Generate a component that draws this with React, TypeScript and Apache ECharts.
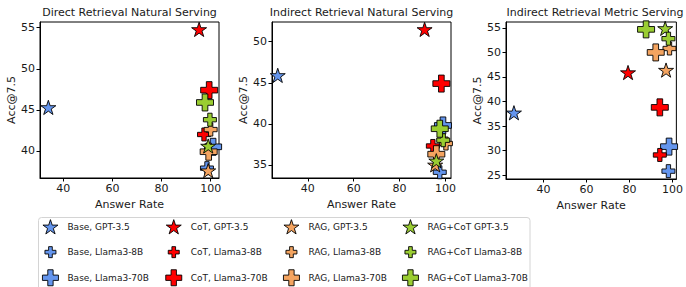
import React, { useEffect, useRef } from "react";
import * as echarts from "echarts";

// ---- data ----
const panelTitles = [
  "Direct Retrieval Natural Serving",
  "Indirect Retrieval Natural Serving",
  "Indirect Retrieval Metric Serving",
];
const xTicks = [40, 60, 80, 100];
const yTicksA = [40, 45, 50, 55];
const yTicksB = [35, 40, 45, 50];
const yTicksC = [25, 30, 35, 40, 45, 50, 55];
const xRanges = [
  [30.5, 103.4],
  [24.4, 102.4],
  [22.5, 101.8],
];
const yRanges = [
  [36.7, 55.7],
  [33.4, 52.4],
  [24.2, 56.2],
];

// [answerRate, acc] per panel
const baseGPT35 = [[33.9, 45.3], [26.9, 45.9], [26.2, 37.7]];
const baseLlama8B = [[98.5, 37.9], [97.5, 34.1], [98.1, 25.8]];
const baseLlama70B = [[101.0, 40.5], [98.9, 39.8], [98.4, 30.8]];
const cotGPT35 = [[95.3, 54.8], [90.9, 51.5], [79.3, 45.9]];
const cotLlama8B = [[97.3, 42.0], [94.5, 37.3], [94.1, 29.1]];
const cotLlama70B = [[99.4, 47.4], [98.2, 44.9], [94.1, 38.8]];
const ragGPT35 = [[99.0, 37.6], [95.5, 35.0], [97.0, 46.4]];
const ragLlama8B = [[100.0, 42.6], [100.2, 37.6], [98.6, 50.8]];
const ragLlama70B = [[99.2, 39.9], [96.0, 36.3], [92.2, 50.0]];
const ragcotGPT35 = [[99.0, 40.6], [96.0, 35.5], [96.6, 54.9]];
const ragcotLlama8B = [[99.7, 43.8], [99.0, 38.0], [98.1, 52.8]];
const ragcotLlama70B = [[97.7, 45.9], [97.5, 39.4], [87.7, 54.7]];

// ---- shapes ----
const starPts: string[] = [];
for (let i = 0; i < 10; i++) {
  const r = i % 2 ? 0.381966 : 1;
  const a = -Math.PI / 2 + (i * Math.PI) / 5;
  starPts.push(`${(r * Math.cos(a)).toFixed(4)},${(r * Math.sin(a)).toFixed(4)}`);
}
const STAR = "path://M" + starPts.join("L") + "Z";
const PLUS = "path://M1,0H2V1H3V2H2V3H1V2H0V1H1Z";

const BLUE = "#6495ED";
const RED = "#FF0000";
const ORANGE = "#F4A460";
const GREEN = "#9ACD32";

type Entry = { name: string; data: number[][]; color: string; kind: "star" | "small" | "big" };
const entries: Entry[] = [
  { name: "Base, GPT-3.5", data: baseGPT35, color: BLUE, kind: "star" },
  { name: "Base, Llama3-8B", data: baseLlama8B, color: BLUE, kind: "small" },
  { name: "Base, Llama3-70B", data: baseLlama70B, color: BLUE, kind: "big" },
  { name: "CoT, GPT-3.5", data: cotGPT35, color: RED, kind: "star" },
  { name: "CoT, Llama3-8B", data: cotLlama8B, color: RED, kind: "small" },
  { name: "CoT, Llama3-70B", data: cotLlama70B, color: RED, kind: "big" },
  { name: "RAG, GPT-3.5", data: ragGPT35, color: ORANGE, kind: "star" },
  { name: "RAG, Llama3-8B", data: ragLlama8B, color: ORANGE, kind: "small" },
  { name: "RAG, Llama3-70B", data: ragLlama70B, color: ORANGE, kind: "big" },
  { name: "RAG+CoT GPT-3.5", data: ragcotGPT35, color: GREEN, kind: "star" },
  { name: "RAG+CoT Llama3-8B", data: ragcotLlama8B, color: GREEN, kind: "small" },
  { name: "RAG+CoT Llama3-70B", data: ragcotLlama70B, color: GREEN, kind: "big" },
];

const FONT = "DejaVu Sans";
const TXT = "#1a1a1a";

export default function App() {
  const ref = useRef<HTMLDivElement>(null);
  useEffect(() => {
    document.body.style.margin = "0";
    if (!ref.current) return;
    const chart = echarts.init(ref.current, null, { renderer: "svg" });

    const grids = [
      { left: 40, top: 22, width: 179, height: 156 },
      { left: 272, top: 22, width: 179, height: 156 },
      { left: 506, top: 22, width: 178, height: 157 },
    ];
    const yTickSets = [yTicksA, yTicksB, yTicksC];
    const yNameGaps = [23, 22, 23];

    const symbolFor = (k: string) => (k === "star" ? STAR : PLUS);
    const plotSize = (k: string) => (k === "star" ? 15 : k === "small" ? 13 : 17);
    const legendSize = (k: string) => (k === "star" ? 15 : k === "small" ? 11 : 16);

    const series: any[] = [];
    entries.forEach((e) => {
      for (let p = 0; p < 3; p++) {
        series.push({
          type: "scatter",
          name: e.name,
          xAxisIndex: p,
          yAxisIndex: p,
          data: [e.data[p]],
          symbol: symbolFor(e.kind),
          symbolSize: plotSize(e.kind),
          symbolKeepAspect: true,
          clip: false,
          itemStyle: { color: e.color, borderColor: "#000", borderWidth: 0.9, opacity: 1 },
          emphasis: { disabled: true },
        });
      }
    });

    const colX = [50, 173.3, 291, 410];
    const rowY = [226.7, 251.7, 277.3];
    const legends = entries.map((e, i) => {
      const col = Math.floor(i / 3);
      const row = i % 3;
      const h = legendSize(e.kind);
      return {
        left: colX[col] - h / 2,
        top: rowY[row] - h / 2,
        orient: "horizontal",
        padding: 0,
        itemWidth: h,
        itemHeight: h,
        symbolKeepAspect: true,
        z: 10,
        itemStyle: { color: e.color, borderColor: "#000", borderWidth: 0.9 },
        textStyle: {
          fontFamily: FONT,
          fontSize: 9,
          color: TXT,
          padding: [0, 0, 0, 17 - h / 2 - 5],
        },
        data: [{ name: e.name, icon: symbolFor(e.kind) }],
      };
    });

    chart.setOption({
      animation: false,
      title: panelTitles.map((t, i) => ({
        text: t,
        left: grids[i].left + grids[i].width / 2,
        top: 7,
        textAlign: "center",
        padding: 0,
        textStyle: { fontFamily: FONT, fontSize: 11, fontWeight: "normal", color: TXT },
      })),
      grid: grids.map((g) => ({ ...g, show: true, borderColor: "#000", borderWidth: 1, backgroundColor: "transparent" })),
      xAxis: grids.map((_, i) => ({
        type: "value",
        gridIndex: i,
        min: xRanges[i][0],
        max: xRanges[i][1],
        name: "Answer Rate",
        nameLocation: "middle",
        nameGap: 18,
        nameTextStyle: { fontFamily: FONT, fontSize: 11, color: TXT },
        axisLine: { show: true, lineStyle: { color: "#000", width: 1 } },
        axisTick: { show: true, length: 3.5, lineStyle: { color: "#000" }, customValues: xTicks },
        axisLabel: { fontFamily: FONT, fontSize: 11, color: TXT, margin: 5, customValues: xTicks },
        splitLine: { show: false },
      })),
      yAxis: grids.map((_, i) => ({
        type: "value",
        gridIndex: i,
        min: yRanges[i][0],
        max: yRanges[i][1],
        name: "Acc@7.5",
        nameLocation: "middle",
        nameGap: yNameGaps[i],
        nameTextStyle: { fontFamily: FONT, fontSize: 11, color: TXT },
        axisLine: { show: true, lineStyle: { color: "#000", width: 1 } },
        axisTick: { show: true, length: 3.5, lineStyle: { color: "#000" }, customValues: yTickSets[i] },
        axisLabel: { fontFamily: FONT, fontSize: 11, color: TXT, margin: 5, customValues: yTickSets[i] },
        splitLine: { show: false },
      })),
      legend: legends,
      graphic: [
        {
          type: "rect",
          z: 0,
          shape: { x: 38.5, y: 217.5, width: 491.5, height: 80, r: 3 },
          style: { fill: "#fff", stroke: "#d4d4d4", lineWidth: 1 },
        },
      ],
      series,
    });
    return () => chart.dispose();
  }, []);
  return <div ref={ref} style={{ width: 686, height: 287 }} />;
}
